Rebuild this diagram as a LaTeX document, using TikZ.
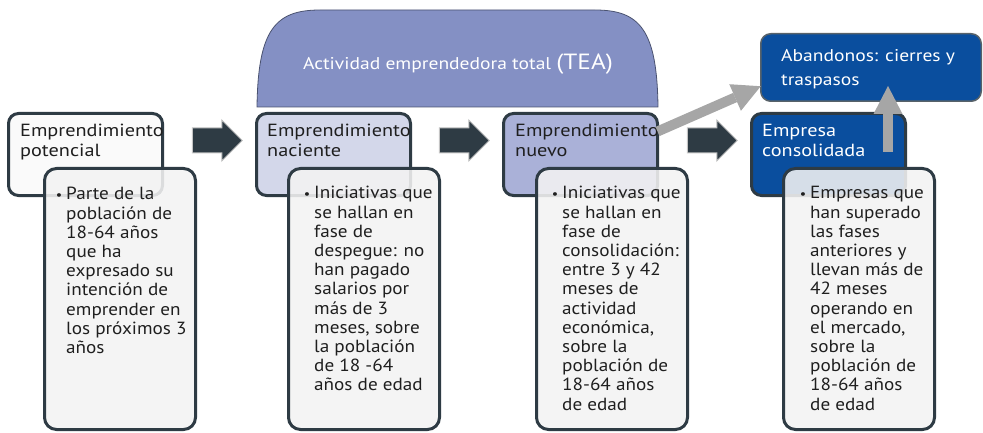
\documentclass[tikz,border=0pt]{standalone}
\usepackage{fontspec}
\setmainfont{PT Sans}[FakeStretch=1.15]
\newfontfamily\detfont{PT Sans}[FakeStretch=1.09]
\usetikzlibrary{arrows.meta,shapes.arrows,calc}
\definecolor{dark}{HTML}{2E3B44}
\definecolor{detfill}{HTML}{F3F3F3}
\definecolor{cA}{HTML}{FAFAFA}
\definecolor{cB}{HTML}{D3D7EA}
\definecolor{cC}{HTML}{AAB1D8}
\definecolor{cD}{HTML}{0A4E9E}
\definecolor{tea}{HTML}{8490C4}
\definecolor{teaedge}{HTML}{4A5270}
\definecolor{garrow}{HTML}{A6A6A6}
\definecolor{aredge}{HTML}{C4C4C4}
\newcommand{\mlines}[2]{\vtop{\baselineskip=#1\lineskiplimit=-50pt\lineskip=0pt\halign{##\hfil\cr#2\crcr}}}
\newcommand{\bul}{\llap{\raisebox{0.5pt}{\fontsize{13}{13}\selectfont •}\hspace{4pt}}}
\begin{document}
\begin{tikzpicture}[x=1pt,y=-1pt,
  hbox/.style={draw=dark,line width=3pt,rounded corners=10pt,inner sep=0pt,outer sep=0pt,anchor=north west,minimum width=154pt,minimum height=82pt},
  dbox/.style={draw=dark,line width=3pt,rounded corners=12pt,inner sep=0pt,outer sep=0pt,anchor=north west,fill=detfill,fill opacity=0.88,draw opacity=1,minimum width=151pt,minimum height=261pt},
  htext/.style={anchor=base west,inner sep=0pt,font=\fontsize{17.6}{20}\selectfont},
  dtext/.style={anchor=base west,inner sep=0pt,text=black!88,font=\detfont\fontsize{17.6}{19.2}\selectfont},
  darrow/.style={single arrow,fill=dark,draw=aredge,line width=1pt,minimum height=50pt,single arrow head extend=8pt,inner sep=12pt,anchor=center},
  garr/.style={draw=garrow,line width=10pt,-{Triangle[length=28pt,width=29pt,line width=0pt]}}
]
\useasboundingbox (0,0) rectangle (983,433);
% TEA shape
\draw[fill=tea,draw=teaedge,line width=0.8pt] (257,107) .. controls (258,30) and (275,10) .. (320,10) -- (595,10) .. controls (640,10) and (657,30) .. (658,107) -- cycle;
\node[anchor=base,inner sep=0pt,text=white,font=\fontsize{17}{20}\selectfont] (teat) at (458,70) {Actividad emprendedora total {\fontsize{22}{24}\selectfont(TEA)}};
% header boxes
\node[hbox,fill=cA] (h1) at (8.5,113.5) {};
\node[hbox,fill=cB] (h2) at (256.5,113.5) {};
\node[hbox,fill=cC] (h3) at (503.5,113.5) {};
\node[hbox,fill=cD] (h4) at (751.5,113.5) {};
\node[htext,text=black!88] (t1) at (20,137) {\mlines{20pt}{Emprendimiento\cr potencial}};
\node[htext,text=black!88] (t2) at (267,137) {\mlines{20pt}{Emprendimiento\cr naciente}};
\node[htext,text=black!88] (t3) at (515,137) {\mlines{20pt}{Emprendimiento\cr nuevo}};
\node[htext,text=white] (t4) at (762,137) {\mlines{20pt}{Empresa\cr consolidada}};
% abandonos
\node[draw=dark!80,line width=1.5pt,fill=cD,rounded corners=10pt,inner sep=0pt,outer sep=0pt,anchor=north west,minimum width=220.5pt,minimum height=67.5pt] (ab) at (760.75,33.75) {};
\node[anchor=base west,inner sep=0pt,text=white,font=\fontsize{17}{24}\selectfont] (abt) at (781,62) {\mlines{24pt}{Abandonos: cierres y\cr traspasos}};
% dark block arrows
\node[darrow] (a1) at (211,140.5) {};
\node[darrow] (a2) at (458,140.5) {};
\node[darrow] (a3) at (706,140.5) {};
% gray arrows
\coordinate (g1s) at ($(h3.north east)+(0,18)$);
\coordinate (g1e) at ($(ab.south west)+(0,-15)$);
\draw[garr] (g1s) -- (g1e);
\coordinate (g2s) at (888,152);
\coordinate (g2e) at (888,86);
\draw[garr] (g2s) -- (g2e);
% detail boxes
\node[dbox] (d1) at (44.5,168.5) {};
\node[dbox] (d2) at (288.5,168.5) {};
\node[dbox] (d3) at (536.5,168.5) {};
\node[dbox] (d4) at (783.5,168.5) {};
\node[dtext] (dt1) at (66,200) {\mlines{19.2pt}{\bul Parte de la\cr población de\cr 18-64 años\cr que ha\cr expresado su\cr intención de\cr emprender en\cr los próximos 3\cr años}};
\node[dtext] (dt2) at (314,199) {\mlines{19.2pt}{\bul Iniciativas que\cr se hallan en\cr fase de\cr despegue: no\cr han pagado\cr salarios por\cr más de 3\cr meses, sobre\cr la población\cr de 18 -64\cr años de edad}};
\node[dtext] (dt3) at (562,199) {\mlines{19.2pt}{\bul Iniciativas que\cr se hallan en\cr fase de\cr consolidación:\cr entre 3 y 42\cr meses de\cr actividad\cr económica,\cr sobre la\cr población de\cr 18-64 años\cr de edad}};
\node[dtext] (dt4) at (810,199) {\mlines{19.2pt}{\bul Empresas que\cr han superado\cr las fases\cr anteriores y\cr llevan más de\cr 42 meses\cr operando en\cr el mercado,\cr sobre la\cr población de\cr 18-64 años\cr de edad}};
\end{tikzpicture}
\end{document}
